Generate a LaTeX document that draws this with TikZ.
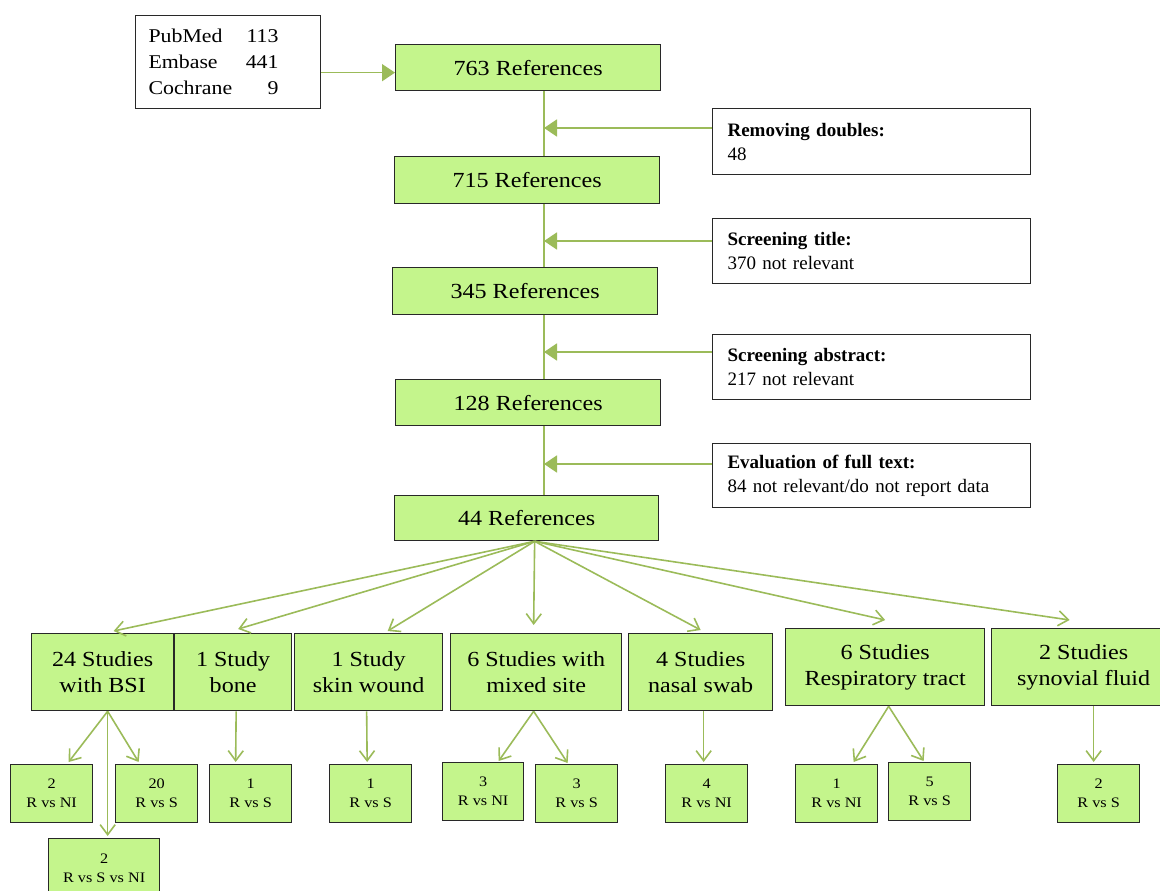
\documentclass[tikz,border=0pt]{standalone}
\usepackage{fontspec}
\setmainfont{Liberation Serif}
\newfontfamily\cam{Liberation Serif}[FakeStretch=1.12]
\usetikzlibrary{arrows.meta}
\definecolor{boxgreen}{RGB}{196,245,140}
\definecolor{linkgreen}{RGB}{155,187,89}
\definecolor{edge}{RGB}{40,40,40}

\tikzset{
  gbox/.style={draw=edge, line width=1.3pt, fill=boxgreen, inner sep=0pt,
    anchor=north west, align=center},
  refbox/.style={gbox, font=\cam\fontsize{21.5}{26}\selectfont},
  leaf/.style={gbox, minimum width=82pt, minimum height=58pt,
    font=\cam\fontsize{14.5}{19}\selectfont},
  note/.style={draw=edge, line width=1.1pt, fill=white, anchor=north west,
    inner xsep=15pt, inner ysep=0pt, text width=288pt, align=left,
    font=\fontsize{19}{24}\selectfont},
  spine/.style={draw=linkgreen, line width=1.6pt},
  feed/.style={spine, -{Triangle[length=13pt,width=17pt]}},
  split/.style={draw=linkgreen, line width=1.6pt,
    -{Straight Barb[length=10pt,width=15pt]}},
}

\begin{document}
\begin{tikzpicture}[x=1pt, y=-1pt]
\useasboundingbox (0,0) rectangle (1160,891);

% sources
\node[draw=edge, line width=1.1pt, fill=white, anchor=north west,
  minimum height=93pt, inner xsep=13pt, inner ysep=0pt, text width=159pt,
  align=left, font=\cam\fontsize{19.5}{26}\selectfont] (src) at (135,15)
  {\makebox[95pt][l]{PubMed}\makebox[35pt][r]{113}\\
   \makebox[95pt][l]{Embase}\makebox[35pt][r]{441}\\
   \makebox[95pt][l]{Cochrane}\makebox[35pt][r]{9}};

% main chain
\node[refbox, minimum width=265pt, minimum height=46pt] (r763) at (395,44) {763 References};
\node[refbox, minimum width=265pt, minimum height=47pt] (r715) at (394,156) {715 References};
\node[refbox, minimum width=265pt, minimum height=47pt] (r345) at (392,267) {345 References};
\node[refbox, minimum width=265pt, minimum height=46pt] (r128) at (395,379) {128 References};
\node[refbox, minimum width=264pt, minimum height=45pt] (r44) at (394,495) {44 References};

% exclusion notes
\node[note, minimum height=66pt] (rd) at (712,108) {\textbf{Removing doubles:}\\48};
\node[note, minimum height=65pt] (st) at (712,218) {\textbf{Screening title:}\\370 not relevant};
\node[note, minimum height=65pt] (sa) at (712,334) {\textbf{Screening abstract:}\\217 not relevant};
\node[note, minimum height=64pt] (ev) at (712,443) {\textbf{Evaluation of full text:}\\84 not relevant/do not report data};

% study groups
\node[refbox, minimum width=142pt, minimum height=77pt] (bsi) at (31,633) {24 Studies\\with BSI};
\node[refbox, minimum width=117pt, minimum height=77pt] (bone) at (174,633) {1 Study\\bone};
\node[refbox, minimum width=148pt, minimum height=77pt] (skin) at (294,633) {1 Study\\skin wound};
\node[refbox, minimum width=171pt, minimum height=77pt] (mixed) at (450,633) {6 Studies with\\mixed site};
\node[refbox, minimum width=144pt, minimum height=77pt] (nasal) at (628,633) {4 Studies\\nasal swab};
\node[refbox, minimum width=199pt, minimum height=77pt] (resp) at (785,628) {6 Studies\\Respiratory tract};
\node[refbox, minimum width=184pt, minimum height=77pt] (syn) at (991,628) {2 Studies\\synovial fluid};

% comparisons
\node[leaf] (lbsini) at (10,764) {2\\R vs NI};
\node[leaf] (lbsis) at (115,764) {20\\R vs S};
\node[leaf, minimum width=111pt, minimum height=60pt] (lbsisni) at (48,838) {2\\R vs S vs NI};
\node[leaf] (lbone) at (209,764) {1\\R vs S};
\node[leaf] (lskin) at (329,764) {1\\R vs S};
\node[leaf, minimum width=81pt] (lmixni) at (442,762) {3\\R vs NI};
\node[leaf] (lmixs) at (535,764) {3\\R vs S};
\node[leaf] (lnasal) at (665,764) {4\\R vs NI};
\node[leaf] (lrespni) at (795,764) {1\\R vs NI};
\node[leaf] (lresps) at (888,762) {5\\R vs S};
\node[leaf] (lsyn) at (1057,764) {2\\R vs S};

% spine of the screening chain
\coordinate (sx) at (544,0);
\draw[spine] (r763.south -| sx) -- (r715.north -| sx);
\draw[spine] (r715.south -| sx) -- (r345.north -| sx);
\draw[spine] (r345.south -| sx) -- (r128.north -| sx);
\draw[spine] (r128.south -| sx) -- (r44.north -| sx);

% database input
\coordinate (inEntry) at ([yshift=-5pt]r763.west);
\draw[feed] (inEntry -| src.east) -- (inEntry);

% exclusions joining the spine
\coordinate (rdOut) at ([yshift=-20pt]rd.north west);
\coordinate (stOut) at ([yshift=-23pt]st.north west);
\coordinate (saOut) at ([yshift=-18pt]sa.north west);
\coordinate (evOut) at ([yshift=-21pt]ev.north west);
\draw[feed] (rdOut) -- (rdOut -| sx);
\draw[feed] (stOut) -- (stOut -| sx);
\draw[feed] (saOut) -- (saOut -| sx);
\draw[feed] (evOut) -- (evOut -| sx);

% fan out to study groups
\coordinate (fan) at ([xshift=8pt]r44.south);
\draw[split] (fan) -- ([xshift=11pt,yshift=2pt]bsi.north);
\draw[split] (fan) -- ([xshift=5pt,yshift=4pt]bone.north);
\draw[split] (fan) -- ([xshift=19pt,yshift=2pt]skin.north);
\draw[split] (fan) -- ([xshift=-2.5pt,yshift=8pt]mixed.north);
\draw[split] (fan) -- ([xshift=0pt,yshift=3pt]nasal.north);
\draw[split] (fan) -- ([xshift=0pt,yshift=8pt]resp.north);
\draw[split] (fan) -- ([xshift=-14pt,yshift=8pt]syn.north);

% study groups to comparisons
\draw[split] ([xshift=5pt]bsi.south) -- ([xshift=17pt,yshift=2pt]lbsini.north);
\draw[split] ([xshift=5pt]bsi.south) -- ([xshift=-18pt,yshift=2pt]lbsis.north);
\draw[split] ([xshift=5pt]bsi.south) -- ([xshift=3.5pt,yshift=2pt]lbsisni.north);
\draw[split] ([xshift=3pt]bone.south) -- ([xshift=-15pt,yshift=2pt]lbone.north);
\draw[split] ([xshift=-2pt]skin.south) -- ([xshift=-3.5pt,yshift=2pt]lskin.north);
\draw[split] ([xshift=-2.5pt]mixed.south) -- ([xshift=15.5pt,yshift=1pt]lmixni.north);
\draw[split] ([xshift=-2.5pt]mixed.south) -- ([xshift=-9pt,yshift=1pt]lmixs.north);
\draw[split] ([xshift=3pt]nasal.south) -- ([xshift=-3pt,yshift=2pt]lnasal.north);
\draw[split] ([xshift=3.5pt]resp.south) -- ([xshift=17pt,yshift=2pt]lrespni.north);
\draw[split] ([xshift=3.5pt]resp.south) -- ([xshift=-6pt,yshift=1pt]lresps.north);
\draw[split] ([xshift=10pt]syn.south) -- ([xshift=-5pt,yshift=2pt]lsyn.north);
\end{tikzpicture}
\end{document}
